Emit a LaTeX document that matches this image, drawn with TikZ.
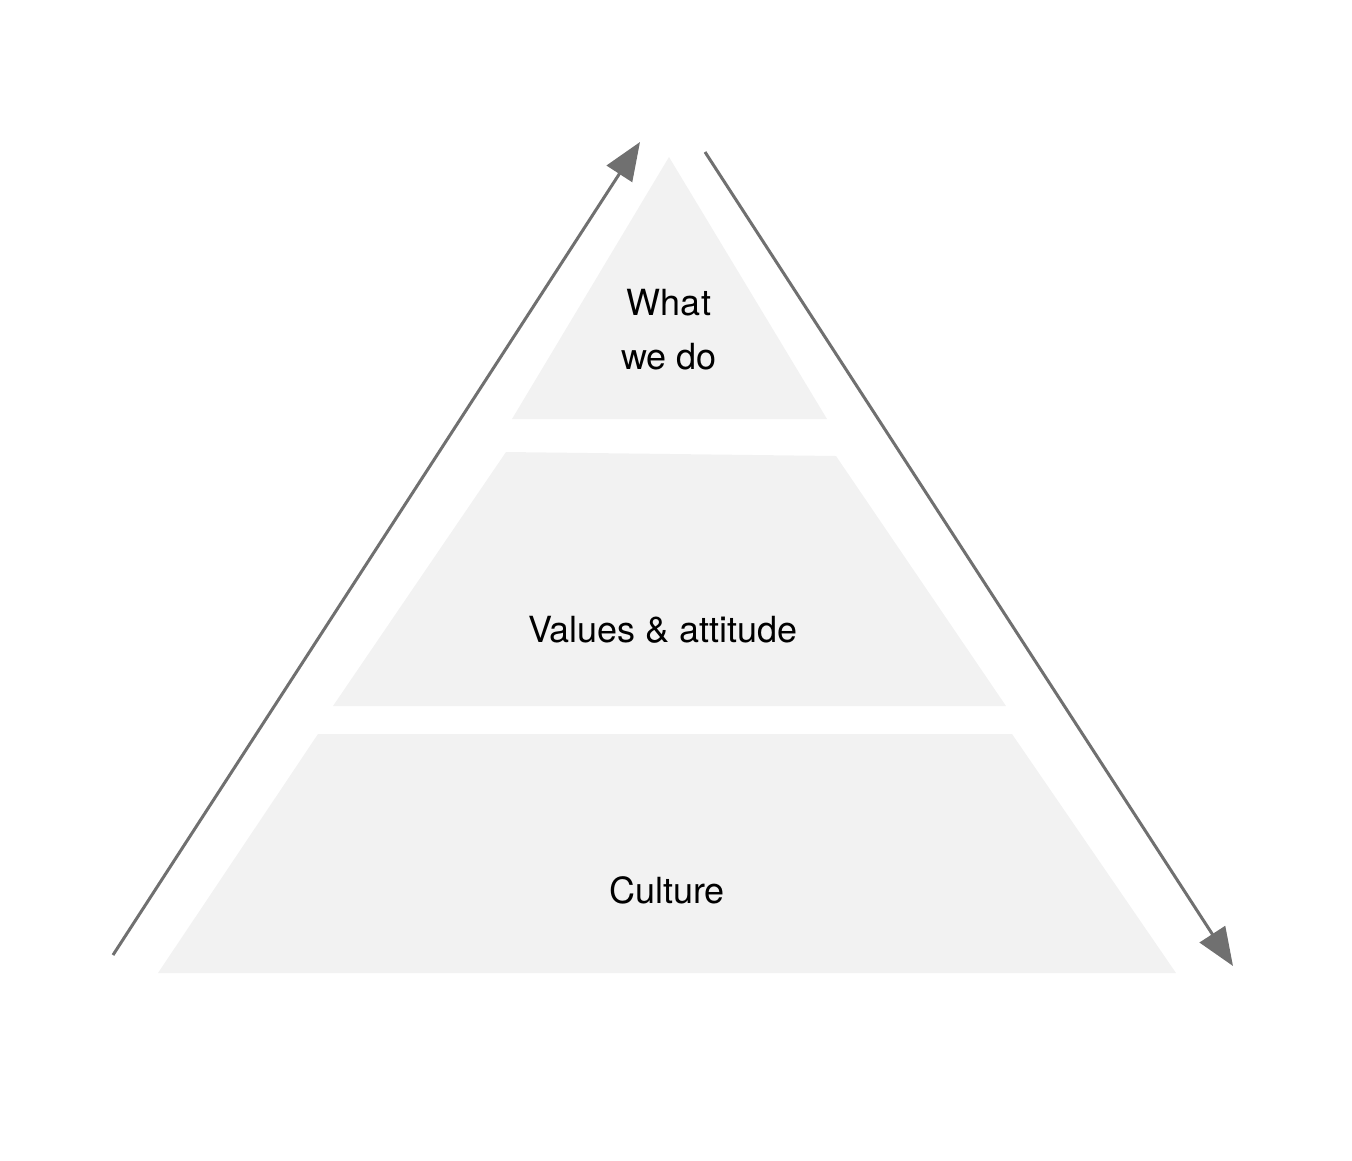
\documentclass[tikz,border=0pt]{standalone}
\usepackage{fontspec}
\setmainfont{TeX Gyre Heros}
\usetikzlibrary{arrows.meta}
\definecolor{layer}{HTML}{F2F2F2}
\definecolor{arr}{HTML}{707070}
\tikzset{
  layerfill/.style={fill=layer,draw=none},
  lbl/.style={font=\fontsize{36}{54}\selectfont,align=center,text=black},
  flow/.style={draw=arr,line width=3pt,-{Triangle[length=38pt,width=30pt]}}
}
\begin{document}
\begin{tikzpicture}[x=1pt,y=-1pt]
\useasboundingbox (0,0) rectangle (1352,1160);
\fill[layerfill] (669,157) -- (827,419) -- (512,419) -- cycle;
\fill[layerfill] (506,452) -- (836,456) -- (1006,706) -- (333,706) -- cycle;
\fill[layerfill] (318,734) -- (1012,734) -- (1176,973) -- (158,973) -- cycle;
\node[lbl] (top) at (669,330) {What\\we do};
\node[lbl] (mid) at (663,630) {Values \& attitude};
\node[lbl] (bot) at (667,890) {Culture};
\coordinate (l0) at (113,955);
\coordinate (l1) at (640,142);
\coordinate (r0) at (705,152);
\coordinate (r1) at (1233,966);
\draw[flow] (l0) -- (l1);
\draw[flow] (r0) -- (r1);
\end{tikzpicture}
\end{document}
